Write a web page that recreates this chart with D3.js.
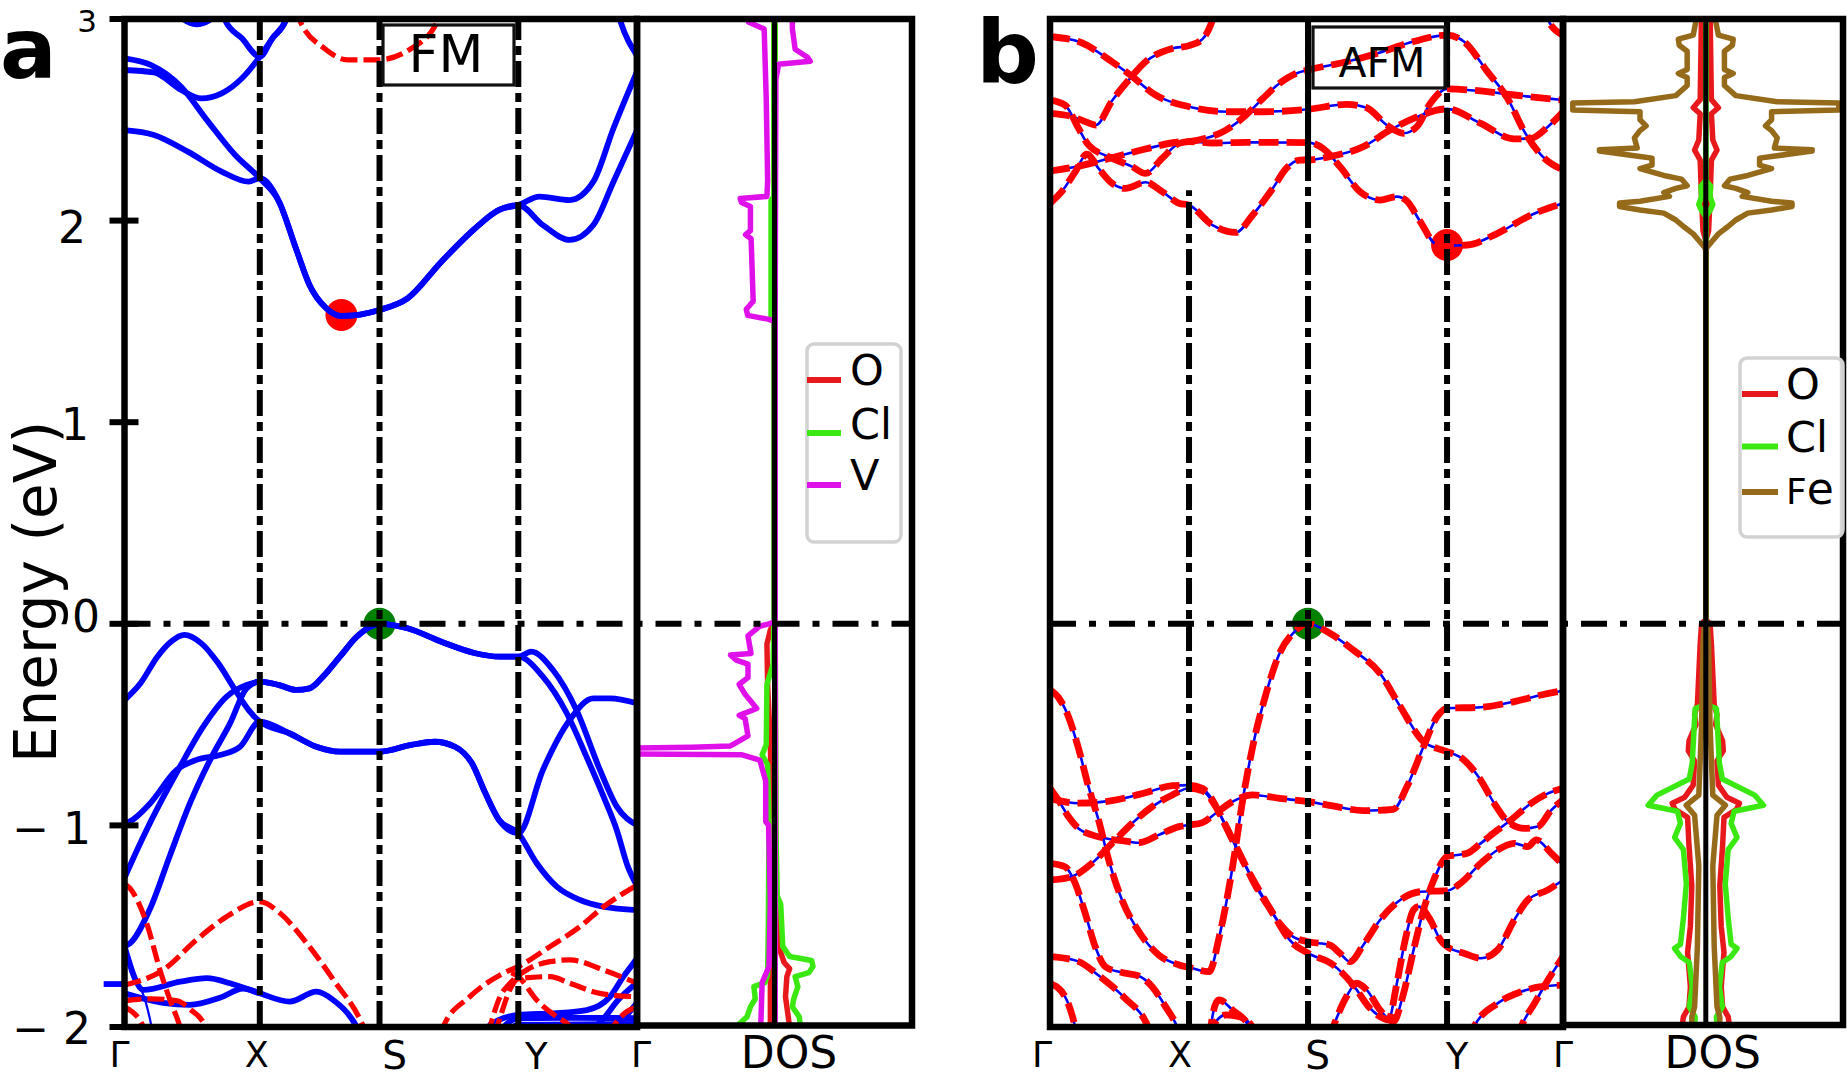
<!DOCTYPE html>
<html><head><meta charset="utf-8">
<script src="https://cdn.jsdelivr.net/npm/d3@7"></script>
<style>
body{margin:0;background:#fff}
svg{display:block}
text{font-family:"DejaVu Sans",sans-serif;fill:#000}
</style>
</head><body>
<svg id="c" width="1848" height="1079"></svg>
<script>
// ---------------- DATA ----------------
const kTicks = [0, 1, 2, 3, 4];
const kLabels = ["Γ", "X", "S", "Y", "Γ"];
const pathFracFM = [0, 0.264, 0.4976, 0.7684, 1];
const pathFracAFM = [0, 0.271, 0.503, 0.774, 1];
const energyTicks = [3, 2, 1, 0, -1, -2];
const energyTickLabels = ["3", "2", "1", "0", "− 1", "− 2"];
const panelLabels = ["a", "b"];
const boxLabels = ["FM", "AFM"];
const dosAxisLabel = "DOS";
const yAxisLabel = "Energy (eV)";

// FM spin-up bands (blue), [k, E]
const fmUpBands = [
  [[0,2.449],[0.218,2.425],[0.468,2.342],[0.718,2.243],[0.918,2.193],[1,2.21],[1.161,2.094],[1.302,1.862],[1.415,1.681],[1.556,1.565],[1.684,1.527],[2,1.557],[2.202,1.614],[2.446,1.796],[2.69,1.962],[2.861,2.053],[3,2.077],[3.207,1.978],[3.433,1.904],[3.632,1.978],[3.802,2.193],[4,2.449]],
  [[0,2.805],[0.193,2.772],[0.418,2.664],[0.618,2.491],[0.818,2.325],[1,2.21],[1.161,2.094],[1.302,1.862],[1.415,1.681],[1.556,1.565],[1.684,1.527],[2,1.557],[2.202,1.614],[2.446,1.796],[2.69,1.962],[2.861,2.053],[3,2.077],[3.178,2.119],[3.433,2.102],[3.632,2.193],[3.802,2.458],[4,2.739]],
  [[0,2.747],[0.218,2.735],[0.418,2.648],[0.568,2.606],[0.718,2.631],[0.868,2.706],[1,2.813],[1.105,2.904],[1.218,2.995],[1.25,3.05]],
  [[0.72,3.05],[0.743,2.995],[0.868,2.904],[1,2.813],[1.105,2.904],[1.218,2.995],[1.25,3.05]],
  [[0.40,3.05],[0.443,2.995],[0.53,2.974],[0.63,2.995],[0.68,3.05]],
  [[3.83,3.05],[3.86,2.99],[4,2.82]],
  [[0,-0.378],[0.118,-0.295],[0.243,-0.163],[0.343,-0.089],[0.443,-0.055],[0.568,-0.097],[0.693,-0.196],[0.818,-0.328],[0.918,-0.428],[1,-0.485],[1.246,-0.543],[1.472,-0.61],[1.669,-0.634],[2,-0.634],[2.227,-0.601],[2.398,-0.585],[2.544,-0.61],[2.666,-0.692],[2.763,-0.841],[2.861,-0.973],[3,-1.039],[3.155,-1.188],[3.324,-1.304],[3.52,-1.37],[3.716,-1.403],[4,-1.42]],
  [[0,-0.99],[0.04,-0.98],[0.189,-0.891],[0.385,-0.725],[0.533,-0.675],[0.706,-0.651],[0.854,-0.61],[1,-0.485],[1.246,-0.543],[1.472,-0.61],[1.669,-0.634],[2,-0.634],[2.227,-0.601],[2.398,-0.585],[2.544,-0.61],[2.666,-0.692],[2.763,-0.841],[2.861,-0.973],[3,-1.039],[3.207,-0.725],[3.433,-0.477],[3.632,-0.37],[3.773,-0.37],[4,-0.394]],
  [[0,-1.26],[0.139,-1.056],[0.262,-0.891],[0.41,-0.709],[0.582,-0.51],[0.755,-0.361],[0.903,-0.303],[1,-0.287],[1.161,-0.304],[1.302,-0.328],[1.415,-0.32],[1.528,-0.262],[1.669,-0.163],[1.811,-0.064],[1.924,-0.014],[2,0],[2.202,-0.022],[2.446,-0.089],[2.69,-0.146],[2.861,-0.163],[3,-0.163],[3.108,-0.138],[3.292,-0.229],[3.49,-0.428],[3.688,-0.725],[3.83,-0.907],[4,-0.998]],
  [[0,-1.6],[0.041,-1.585],[0.188,-1.415],[0.336,-1.149],[0.484,-0.89],[0.632,-0.676],[0.78,-0.494],[0.903,-0.32],[1,-0.287],[1.161,-0.304],[1.302,-0.328],[1.415,-0.32],[1.528,-0.262],[1.669,-0.163],[1.811,-0.064],[1.924,-0.014],[2,0],[2.202,-0.022],[2.446,-0.089],[2.69,-0.146],[2.861,-0.163],[3,-0.163],[3.207,-0.262],[3.405,-0.44],[3.575,-0.66],[3.72,-0.86],[3.83,-1.024],[3.92,-1.2],[4,-1.30]],
  [[0,-1.6],[0.139,-1.816],[0.412,-1.775],[0.61,-1.758],[0.78,-1.783],[1,-1.833],[1.25,-1.874],[1.473,-1.825],[1.61,-1.865],[1.81,-2.0],[1.86,-2.06]],
  [[0,-1.833],[0.285,-1.88],[0.483,-1.89],[0.705,-1.855],[0.876,-1.81],[1,-1.833]],
  [[2.78,-2.03],[2.796,-1.99],[3,-1.94],[3.295,-1.932],[3.576,-1.916],[3.773,-1.85],[3.885,-1.75],[3.969,-1.684],[4,-1.66]],
  [[2.85,-2.03],[3,-1.957],[3.5,-1.955],[4,-1.956]],
  [[2.9,-2.04],[3,-1.99],[4,-1.985]],
  [[3.55,-2.04],[3.7,-1.97],[3.85,-1.86],[4,-1.78]],
  [[3.77,-2.03],[3.9,-1.95],[4,-1.88]]
];
const fmUpThinBands = [[[0.04,-1.72],[0.2,-2.0],[0.21,-2.05]]];
const fmUpStub = [[-0.154,-1.787],[0,-1.787]];

// FM spin-down bands (red dashed)
const fmDownBands = [
  [[1.31,3.05],[1.336,2.99],[1.536,2.856],[1.733,2.797],[1.98,2.797],[2.233,2.856],[2.407,2.975],[2.43,3.05]],
  [[0,-1.29],[0.04,-1.312],[0.164,-1.486],[0.262,-1.717],[0.336,-1.866],[0.41,-2.0],[0.43,-2.05]],
  [[0,-1.792],[0.286,-1.717],[0.532,-1.568],[0.754,-1.453],[1,-1.378],[1.17,-1.436],[1.393,-1.585],[1.616,-1.767],[1.866,-2.0],[1.9,-2.05]],
  [[0,-1.87],[0.2,-1.86],[0.39,-1.87],[0.48,-1.91],[0.6,-2.0],[0.63,-2.05]],
  [[0,-1.9],[0.14,-2.0],[0.16,-2.05]],
  [[2.44,-2.03],[2.458,-2.0],[2.65,-1.85],[2.89,-1.734],[3,-1.70],[3.27,-1.60],[3.52,-1.502],[3.72,-1.403],[4,-1.296]],
  [[2.78,-2.04],[2.796,-2.0],[2.868,-1.85],[2.94,-1.783],[3.07,-1.717],[3.267,-1.676],[3.435,-1.667],[3.716,-1.717],[4,-1.783]],
  [[2.83,-2.04],[2.87,-1.95],[2.95,-1.80],[3,-1.76],[3.267,-1.75],[3.435,-1.783],[3.688,-1.833],[4,-1.85]],
  [[2.95,-1.73],[3,-1.75],[3.155,-1.866],[3.324,-1.95],[3.435,-2.0],[3.47,-2.05]],
  [[3.75,-2.04],[3.9,-1.93],[4,-1.9]]
];

// AFM bands (both spins degenerate)
const afmBands = [
  [[0,2.912],[0.205,2.888],[0.446,2.788],[0.578,2.722],[0.759,2.623],[1,2.565],[1.338,2.54],[1.62,2.54],[2,2.552],[2.277,2.577],[2.422,2.56],[2.566,2.474],[2.687,2.433],[2.783,2.466],[2.88,2.582],[3,2.653],[3.29,2.643],[3.58,2.623],[4,2.598]],
  [[0,2.598],[0.108,2.573],[0.205,2.458],[0.277,2.375],[0.446,2.31],[0.59,2.268],[0.687,2.234],[0.807,2.309],[0.928,2.383],[1,2.392],[1.197,2.385],[1.479,2.388],[2,2.387],[2.108,2.358],[2.229,2.268],[2.373,2.144],[2.518,2.102],[2.639,2.119],[2.711,2.097],[2.807,1.995],[2.928,1.879],[3,1.876],[3.174,1.879],[3.435,1.937],[3.725,2.028],[4,2.086]],
  [[0,2.532],[0.157,2.516],[0.253,2.491],[0.33,2.474],[0.446,2.594],[0.566,2.697],[0.687,2.788],[0.88,2.854],[1,2.868],[1.113,2.9],[1.197,2.995],[1.23,3.06]],
  [[0,2.246],[0.205,2.27],[0.446,2.312],[0.687,2.355],[0.928,2.39],[1,2.392],[1.141,2.408],[1.31,2.449],[1.479,2.524],[1.62,2.606],[1.761,2.681],[1.901,2.73],[2,2.747],[2.277,2.788],[2.518,2.834],[2.759,2.888],[3,2.92],[3.145,2.888],[3.348,2.739],[3.522,2.606],[3.667,2.441],[3.812,2.325],[4,2.251]],
  [[0,2.086],[0.084,2.144],[0.181,2.242],[0.265,2.329],[0.349,2.259],[0.446,2.185],[0.542,2.16],[0.687,2.19],[0.807,2.144],[0.928,2.086],[1,2.077],[1.197,1.978],[1.394,1.942],[1.535,2.028],[1.704,2.16],[1.817,2.259],[1.93,2.3],[2,2.301],[2.157,2.317],[2.398,2.367],[2.59,2.449],[2.759,2.507],[3,2.554],[3.29,2.482],[3.58,2.405],[3.725,2.408],[3.87,2.466],[4,2.54]],
  [[3.8,3.1],[3.87,2.995],[4,2.92]],
  [[0,-0.328],[0.06,-0.365],[0.133,-0.461],[0.205,-0.618],[0.277,-0.808],[0.349,-0.973],[0.422,-1.171],[0.518,-1.37],[0.639,-1.527],[0.783,-1.643],[0.928,-1.692],[1,-1.704],[1.169,-1.725],[1.254,-1.552],[1.366,-1.205],[1.451,-0.874],[1.535,-0.609],[1.648,-0.345],[1.761,-0.146],[1.873,-0.047],[2,0],[2.157,-0.047],[2.325,-0.13],[2.518,-0.246],[2.663,-0.41],[2.831,-0.585],[2.928,-0.618],[3,-0.634],[3.145,-0.675],[3.29,-0.775],[3.406,-0.89],[3.522,-0.98],[3.667,-1.015],[3.783,-1.006],[3.899,-0.924],[4,-0.874]],
  [[0,-0.816],[0.06,-0.874],[0.133,-0.957],[0.205,-1.015],[0.301,-1.047],[0.398,-1.064],[0.518,-1.076],[0.639,-1.086],[0.783,-1.047],[0.928,-1.006],[1,-0.998],[1.113,-0.986],[1.225,-0.94],[1.366,-0.882],[1.535,-0.849],[1.761,-0.866],[2,-0.882],[2.205,-0.907],[2.398,-0.927],[2.614,-0.92],[2.711,-0.808],[2.831,-0.609],[2.928,-0.461],[3,-0.419],[3.29,-0.414],[3.58,-0.386],[3.812,-0.353],[4,-0.332]],
  [[0,-0.866],[0.205,-0.89],[0.446,-0.877],[0.687,-0.838],[0.88,-0.803],[1,-0.8],[1.113,-0.816],[1.197,-0.874],[1.282,-0.973],[1.423,-1.138],[1.563,-1.304],[1.704,-1.436],[1.845,-1.568],[2,-1.634],[2.181,-1.692],[2.325,-1.792],[2.446,-1.907],[2.542,-1.957],[2.578,-1.965],[2.639,-1.783],[2.699,-1.568],[2.759,-1.419],[2.795,-1.403],[2.88,-1.469],[2.952,-1.568],[3,-1.601],[3.145,-1.634],[3.29,-1.659],[3.435,-1.618],[3.58,-1.469],[3.696,-1.37],[3.87,-1.32],[4,-1.271]],
  [[0,-1.271],[0.157,-1.254],[0.301,-1.188],[0.446,-1.089],[0.59,-0.99],[0.735,-0.907],[0.88,-0.849],[1,-0.816],[1.113,-0.828],[1.225,-0.907],[1.366,-1.072],[1.479,-1.205],[1.62,-1.353],[1.761,-1.486],[1.873,-1.552],[2,-1.577],[2.157,-1.593],[2.229,-1.634],[2.301,-1.676],[2.398,-1.593],[2.518,-1.469],[2.663,-1.37],[2.807,-1.329],[3,-1.324],[3.116,-1.287],[3.29,-1.188],[3.435,-1.122],[3.58,-1.089],[3.696,-1.105],[3.768,-1.072],[3.899,-1.138],[4,-1.196]],
  [[2.15,-2.06],[2.181,-2.0],[2.277,-1.849],[2.349,-1.783],[2.422,-1.816],[2.518,-1.916],[2.614,-1.973],[2.687,-1.833],[2.759,-1.618],[2.831,-1.419],[2.904,-1.271],[3,-1.155],[3.174,-1.138],[3.29,-1.089],[3.435,-1.023],[3.551,-0.973],[3.725,-0.89],[3.87,-0.841],[4,-0.816]],
  [[0,-1.188],[0.108,-1.205],[0.181,-1.287],[0.253,-1.436],[0.325,-1.601],[0.398,-1.701],[0.518,-1.73],[0.639,-1.747],[0.735,-1.8],[0.831,-1.899],[0.916,-2.0],[0.95,-2.06]],
  [[0,-1.651],[0.193,-1.672],[0.364,-1.752],[0.533,-1.853],[0.706,-2.0],[0.74,-2.06]],
  [[0,-1.783],[0.108,-1.849],[0.181,-2.0],[0.2,-2.06]],
  [[1.17,-2.06],[1.183,-2.0],[1.225,-1.883],[1.254,-1.866],[1.366,-1.916],[1.507,-2.0],[1.53,-2.06]],
  [[1.18,-2.06],[1.197,-2.0],[1.31,-1.94],[1.423,-1.949],[1.535,-2.0],[1.56,-2.06]],
  [[3.18,-2.07],[3.232,-2.0],[3.435,-1.883],[3.638,-1.825],[3.812,-1.8],[4,-1.792]],
  [[3.6,-2.06],[3.638,-2.0],[3.754,-1.883],[3.87,-1.767],[4,-1.651]]
];

// band edges [k, E]
const fmCBM = [1.682, 1.532];
const fmVBM = [2, 0];
const afmCBM = [3, 1.879];
const afmVBM = [2, 0];

// FM projected DOS [E, value]; negative = spin up (left), positive = spin down (right)
const fmDosLabels = ["O", "Cl", "V"];
const fmDosO_up = [[3.05,-0.05],[0,-0.05],[-0.03,-0.3],[-0.1,-0.55],[-0.3,-0.5],[-0.6,-0.3],[-1.0,-0.2],[-1.5,-0.2],[-1.8,-0.3],[-2.05,-0.3]];
const fmDosO_dn = [[3.05,0.05],[0,0.05],[-1.3,0.1],[-1.6,0.3],[-1.68,0.7],[-1.71,1.1],[-1.75,0.9],[-1.85,0.8],[-1.95,1.0],[-2.0,1.1],[-2.05,1.1]];
const fmDosCl_up = [[3.05,-0.05],[2.12,-0.05],[2.1,-0.25],[1.52,-0.25],[1.5,-0.05],[0,-0.05],[-0.2,-0.1],[-0.3,-0.55],[-0.6,-0.6],[-0.65,-0.9],[-0.7,-0.5],[-1.0,-0.4],[-1.5,-0.45],[-1.74,-0.5],[-1.78,-0.7],[-1.80,-1.5],[-1.86,-1.4],[-1.9,-1.75],[-1.95,-2.0],[-1.98,-2.5],[-2.0,-2.8],[-2.05,-2.9]];
const fmDosCl_dn = [[3.05,0.05],[0,0.05],[-1.0,0.1],[-1.35,0.2],[-1.39,0.45],[-1.6,0.6],[-1.65,1.1],[-1.67,2.7],[-1.70,2.8],[-1.73,2.5],[-1.75,1.5],[-1.80,1.7],[-1.86,1.4],[-1.9,1.3],[-1.95,1.8],[-2.0,1.9],[-2.05,1.9]];
const fmDosV_up = [[3.05,-1.9],[2.985,-1.9],[2.95,-0.75],[2.6,-0.6],[2.2,-0.5],[2.12,-0.55],[2.11,-2.5],[2.09,-2.4],[2.07,-1.75],[1.95,-1.75],[1.93,-2.1],[1.91,-1.7],[1.6,-1.55],[1.56,-2.05],[1.53,-1.95],[1.51,-0.4],[1.5,0],[0.01,0],[0,-0.4],[-0.012,-1.07],[-0.06,-1.93],[-0.147,-1.71],[-0.155,-3.2],[-0.18,-2.78],[-0.2,-1.93],[-0.267,-1.93],[-0.3,-2.57],[-0.35,-2.14],[-0.42,-1.29],[-0.454,-2.57],[-0.47,-2.14],[-0.556,-1.93],[-0.606,-3.2],[-0.612,-6],[-0.617,-10.5],[-0.645,-10.5],[-0.65,-2.35],[-0.676,-1.07],[-0.78,-0.64],[-0.98,-0.64],[-1.0,-0.43],[-1.37,-0.3],[-1.7,-0.4],[-1.78,-0.9],[-2.0,-1.0],[-2.05,-1.0]];
const fmDosV_dn = [[3.05,1.3],[2.95,1.3],[2.85,1.5],[2.81,2.4],[2.79,2.6],[2.775,0.3],[2.7,0.1],[1.5,0.05],[0,0.05],[-2.05,0.05]];

// AFM projected DOS [E, value] (identical for both spins)
const afmDosLabels = ["O", "Cl", "Fe"];
const afmDosO = [[3.05,0.3],[2.6,0.4],[2.56,0.9],[2.53,0.4],[2.4,0.5],[2.35,0.8],[2.3,0.4],[2.1,0.3],[1.95,0.2],[1.9,0],[0.02,0],[0,0.3],[-0.1,0.4],[-0.4,0.6],[-0.45,0.8],[-0.5,0.7],[-0.58,1.2],[-0.63,1.25],[-0.68,0.8],[-0.8,0.9],[-0.86,1.5],[-0.89,2.4],[-0.92,2.2],[-0.96,1.3],[-1.1,1.2],[-1.3,1.0],[-1.5,1.1],[-1.63,1.3],[-1.8,1.1],[-1.9,1.2],[-1.95,1.6],[-2.0,1.7],[-2.05,1.7]];
const afmDosCl = [[3.05,0],[2.2,0],[2.17,0.35],[2.12,0.3],[2.08,0.5],[2.05,0.3],[2.02,0],[-0.40,0],[-0.42,0.76],[-0.69,0.97],[-0.77,1.18],[-0.85,3.49],[-0.90,4.12],[-0.93,2.02],[-0.99,1.81],[-1.06,2.23],[-1.12,1.6],[-1.29,1.39],[-1.46,1.6],[-1.59,1.81],[-1.61,2.23],[-1.65,1.81],[-1.68,1.18],[-1.80,0.97],[-1.90,1.18],[-1.95,0.76],[-2.0,0.8],[-2.05,0.8]];
const afmDosFe = [[3.05,0.7],[2.99,0.7],[2.92,0.9],[2.90,1.96],[2.87,1.9],[2.84,1.33],[2.75,1.33],[2.73,1.96],[2.71,1.33],[2.67,1.33],[2.62,2.14],[2.59,5.1],[2.583,9.5],[2.548,9.5],[2.54,4.7],[2.50,4.7],[2.47,4.26],[2.446,4.7],[2.41,5.1],[2.36,4.9],[2.352,7.6],[2.345,7.6],[2.318,4.7],[2.31,3.84],[2.275,3.84],[2.258,4.7],[2.224,3.0],[2.206,1.74],[2.173,1.33],[2.16,2.14],[2.139,3.0],[2.12,2.6],[2.096,4.7],[2.087,6.16],[2.07,6.16],[2.053,4.7],[2.037,3.0],[2.003,2.14],[1.968,1.54],[1.934,0.9],[1.90,0.48],[1.865,0.06],[1.85,0],[0.01,0],[0,0.1],[-0.1,0.2],[-0.5,0.3],[-0.85,0.5],[-0.9,1.4],[-0.95,0.8],[-1.2,0.5],[-1.6,0.6],[-1.9,0.8],[-1.95,1.0],[-2.05,1.0]];

// ---------------- DRAWING ----------------
const colBlue = "#0000ff", colRed = "#ff0000";
const colO = "#e8191c", colCl = "#3ce812", colV = "#e010ea", colFe = "#966a1b";
const fmDosColors = [colO, colCl, colV];
const afmDosColors = [colO, colCl, colFe];

const svg = d3.select("#c");
const defs = svg.append("defs");
function clipRect(id, x0, y0, x1, y1) {
  defs.append("clipPath").attr("id", id).append("rect")
    .attr("x", x0).attr("y", y0).attr("width", x1 - x0).attr("height", y1 - y0);
  return "url(#" + id + ")";
}

const yTop = 19, yBot = 1027;
const y = d3.scaleLinear().domain([-2, 3]).range([yBot, yTop]);

const A = {x0: 124.5, x1: 637, d1: 912, dBot: 1025.5};
const B = {x0: 1050, x1: 1563, d1: 1843, dBot: 1025};
const xA = d3.scaleLinear().domain(kTicks).range(pathFracFM.map(f => A.x0 + f * (A.x1 - A.x0)));
const xB = d3.scaleLinear().domain(kTicks).range(pathFracAFM.map(f => B.x0 + f * (B.x1 - B.x0)));
const dosA = d3.scaleLinear().domain([-10, 10]).range([A.x1, A.d1]);
const dosB = d3.scaleLinear().domain([-10.2, 9.8]).range([B.x1, B.d1]);

const lineA = d3.line().x(d => xA(d[0])).y(d => y(d[1])).curve(d3.curveMonotoneX);
const lineB = d3.line().x(d => xB(d[0])).y(d => y(d[1])).curve(d3.curveMonotoneX);

// ---- panel a bands ----
const gA = svg.append("g").attr("clip-path", clipRect("clipA", A.x0, yTop, A.x1, yBot));
gA.append("circle").attr("cx", xA(fmCBM[0])).attr("cy", y(fmCBM[1])).attr("r", 16).attr("fill", "#ff0000");
gA.append("circle").attr("cx", xA(fmVBM[0])).attr("cy", y(fmVBM[1])).attr("r", 16).attr("fill", "#008000");
gA.selectAll("path.up").data(fmUpBands).join("path").attr("class", "up")
  .attr("d", lineA).attr("fill", "none").attr("stroke", colBlue).attr("stroke-width", 5.8).attr("stroke-linejoin", "round");
gA.selectAll("path.thin").data(fmUpThinBands).join("path").attr("class", "thin")
  .attr("d", lineA).attr("fill", "none").attr("stroke", colBlue).attr("stroke-width", 2.2);
gA.selectAll("path.dn").data(fmDownBands).join("path").attr("class", "dn")
  .attr("d", lineA).attr("fill", "none").attr("stroke", colRed).attr("stroke-width", 5.2).attr("stroke-dasharray", "17,6");
svg.append("path").datum(fmUpStub).attr("d", d3.line().x(d => xA(d[0])).y(d => y(d[1])))
  .attr("fill", "none").attr("stroke", colBlue).attr("stroke-width", 5.8);

// ---- panel b bands ----
const gB = svg.append("g").attr("clip-path", clipRect("clipB", B.x0, yTop, B.x1, yBot));
gB.append("circle").attr("cx", xB(afmCBM[0])).attr("cy", y(afmCBM[1])).attr("r", 16).attr("fill", "#ff0000");
gB.append("circle").attr("cx", xB(afmVBM[0])).attr("cy", y(afmVBM[1])).attr("r", 16).attr("fill", "#008000");
gB.selectAll("path.up").data(afmBands).join("path").attr("class", "up")
  .attr("d", lineB).attr("fill", "none").attr("stroke", colBlue).attr("stroke-width", 2.6);
gB.selectAll("path.dn").data(afmBands).join("path").attr("class", "dn")
  .attr("d", lineB).attr("fill", "none").attr("stroke", colRed).attr("stroke-width", 6.8).attr("stroke-dasharray", "20,8");

// ---- DOS panels ----
function dosLine(sc, sign) {
  return d3.line().x(d => sc(sign * d[1])).y(d => y(d[0]));
}
const gDA = svg.append("g").attr("clip-path", clipRect("clipDA", A.x1, yTop, A.d1, A.dBot));
[[fmDosO_up, colO], [fmDosO_dn, colO], [fmDosCl_up, colCl], [fmDosCl_dn, colCl], [fmDosV_up, colV], [fmDosV_dn, colV]]
  .forEach(([data, c]) => {
    gDA.append("path").datum(data).attr("d", dosLine(dosA, 1)).attr("fill", "none")
      .attr("stroke", c).attr("stroke-width", 5.5).attr("stroke-linejoin", "round");
  });
const gDB = svg.append("g").attr("clip-path", clipRect("clipDB", B.x1, yTop, B.d1, B.dBot));
[[afmDosO, colO], [afmDosCl, colCl], [afmDosFe, colFe]].forEach(([data, c]) => {
  [-1, 1].forEach(s => {
    gDB.append("path").datum(data).attr("d", dosLine(dosB, s)).attr("fill", "none")
      .attr("stroke", c).attr("stroke-width", 5.5).attr("stroke-linejoin", "round");
  });
});

// ---- reference lines ----
const vDash = "26,6,9,6", hDash = "26,13,7,13";
[1, 2, 3].forEach(k => {
  svg.append("line").attr("x1", xA(k)).attr("x2", xA(k)).attr("y1", yBot).attr("y2", yTop)
    .attr("stroke", "#000").attr("stroke-width", 6).attr("stroke-dasharray", vDash);
});
svg.append("line").attr("x1", xB(1)).attr("x2", xB(1)).attr("y1", yBot).attr("y2", y(2.15))
  .attr("stroke", "#000").attr("stroke-width", 6).attr("stroke-dasharray", vDash);
[2, 3].forEach(k => {
  svg.append("line").attr("x1", xB(k)).attr("x2", xB(k)).attr("y1", yBot).attr("y2", yTop)
    .attr("stroke", "#000").attr("stroke-width", 6).attr("stroke-dasharray", vDash);
});
svg.append("line").attr("x1", xB(2)).attr("x2", xB(2)).attr("y1", yTop).attr("y2", y(2.28))
  .attr("stroke", "#000").attr("stroke-width", 6);
svg.append("line").attr("x1", xB(3)).attr("x2", xB(3)).attr("y1", yTop).attr("y2", y(2.66))
  .attr("stroke", "#000").attr("stroke-width", 6);
[[A.x0, A.d1], [B.x0, B.d1]].forEach(([a, b]) => {
  svg.append("line").attr("x1", a).attr("x2", b).attr("y1", y(0)).attr("y2", y(0))
    .attr("stroke", "#000").attr("stroke-width", 6).attr("stroke-dasharray", hDash);
});
[[dosA, A.dBot], [dosB, B.dBot]].forEach(([sc, bot]) => {
  svg.append("line").attr("x1", sc(0)).attr("x2", sc(0)).attr("y1", yTop).attr("y2", bot)
    .attr("stroke", "#000").attr("stroke-width", 5);
});

// ---- frames ----
function frame(x0, y0, x1, y1) {
  svg.append("rect").attr("x", x0).attr("y", y0).attr("width", x1 - x0).attr("height", y1 - y0)
    .attr("fill", "none").attr("stroke", "#000").attr("stroke-width", 6.5);
}
frame(A.x0, yTop, A.x1, yBot);
frame(A.x1, yTop, A.d1, A.dBot);
frame(B.x0, yTop, B.x1, yBot);
frame(B.x1, yTop, B.d1, B.dBot);

// ---- y ticks (panel a) ----
const tickDy = {"3": 13, "2": 22, "1": 18, "0": 8, "− 1": 19, "− 2": 17};
const tickX = {"3": 97, "2": 86, "1": 89, "0": 100, "− 1": 91, "− 2": 91};
energyTicks.forEach((e, i) => {
  svg.append("line").attr("x1", A.x0 - 15).attr("x2", A.x0 + 14).attr("y1", y(e)).attr("y2", y(e))
    .attr("stroke", "#000").attr("stroke-width", 6);
  const lab = energyTickLabels[i];
  svg.append("text").attr("x", tickX[lab]).attr("y", y(e) + tickDy[lab])
    .attr("text-anchor", "end").attr("font-size", e === 3 ? 31 : 44).text(lab);
});
svg.append("text").attr("transform", "translate(56,592) rotate(-90)")
  .attr("text-anchor", "middle").attr("font-size", 58).text(yAxisLabel);

// ---- k labels ----
const kLabelStyle = [
  {dx: [-5, -3, 15, 18, 4], dosDx: 14.5},
  {dx: [-8, -9, 9.5, 10, 0], dosDx: 7}
];
const kLabelBase = [1067, 1067, 1069, 1069, 1067];
const kLabelSize = [36, 35, 39, 37, 36];
[[xA, dosA, 0], [xB, dosB, 1]].forEach(([sx, sd, p]) => {
  kTicks.forEach((k, i) => {
    svg.append("text").attr("x", sx(k) + kLabelStyle[p].dx[i]).attr("y", kLabelBase[i])
      .attr("text-anchor", "middle").attr("font-size", kLabelSize[i]).text(kLabels[i]);
  });
  svg.append("text").attr("x", sd(0) + kLabelStyle[p].dosDx).attr("y", 1068)
    .attr("text-anchor", "middle").attr("font-size", 44).text(dosAxisLabel);
});

// ---- panel letters ----
svg.append("text").attr("x", 0).attr("y", 78).attr("font-size", 84).attr("font-weight", "bold").text(panelLabels[0]);
svg.append("text").attr("x", 976).attr("y", 82).attr("font-size", 88).attr("font-weight", "bold").text(panelLabels[1]);

// ---- FM / AFM boxes ----
svg.append("rect").attr("x", 383).attr("y", 25).attr("width", 131).attr("height", 60)
  .attr("fill", "none").attr("stroke", "#111").attr("stroke-width", 3.2);
svg.append("text").attr("x", 446).attr("y", 72).attr("text-anchor", "middle").attr("font-size", 52).text(boxLabels[0]);
svg.append("rect").attr("x", 1313).attr("y", 27).attr("width", 132).attr("height", 61)
  .attr("fill", "none").attr("stroke", "#111").attr("stroke-width", 3.2);
svg.append("text").attr("x", 1382).attr("y", 76.5).attr("text-anchor", "middle").attr("font-size", 41).text(boxLabels[1]);

// ---- legends ----
function legend(x0, y0, w, h, labels, colors, lineYs, textYs, lineX0, lineX1, textX) {
  svg.append("rect").attr("x", x0).attr("y", y0).attr("width", w).attr("height", h).attr("rx", 7)
    .attr("fill", "#fff").attr("fill-opacity", 0.85).attr("stroke", "#d2d2d2").attr("stroke-width", 3.5);
  labels.forEach((lab, i) => {
    svg.append("line").attr("x1", lineX0).attr("x2", lineX1).attr("y1", lineYs[i]).attr("y2", lineYs[i])
      .attr("stroke", colors[i]).attr("stroke-width", 6);
    const t = svg.append("text").attr("x", textX).attr("y", textYs[i]).attr("font-size", 43);
    if (lab === "Fe") {
      t.append("tspan").attr("font-size", 36).text(lab[0]);
      t.append("tspan").attr("font-size", 44).text(lab.slice(1));
    } else {
      t.text(lab);
    }
  });
}
legend(807, 344, 94, 198, fmDosLabels, fmDosColors, [380, 433, 485], [385, 438.5, 490], 807, 841, 850);
legend(1740, 358, 103, 179, afmDosLabels, afmDosColors, [394, 446.5, 492], [399, 452, 504], 1742, 1778, 1786);
</script>
</body></html>
